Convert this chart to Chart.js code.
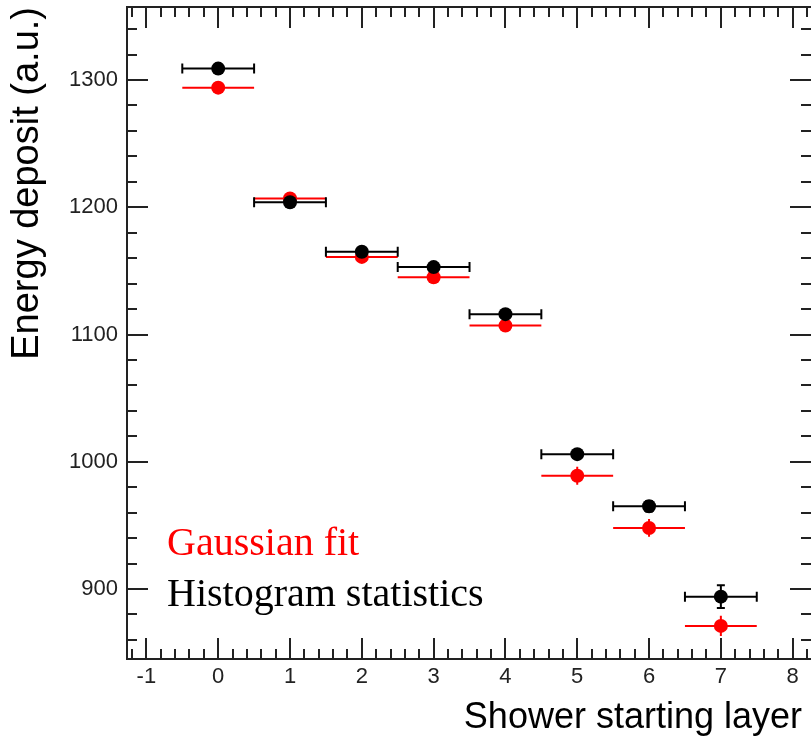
<!DOCTYPE html>
<html>
<head>
<meta charset="utf-8">
<script src="https://cdn.jsdelivr.net/npm/chart.js@4.4.1/dist/chart.umd.min.js"></script>
<style>
    html, body { margin: 0; padding: 0; background: #fff; }
    #wrap { width: 811px; height: 742px; }
</style>
</head>
<body>
<div id="wrap"><canvas id="chart" width="811" height="742"></canvas></div>
<script>
// shower starting layer (x) and the two estimates of the energy deposit
const LAYERS = [0, 1, 2, 3, 4, 5, 6, 7];
const HIST_MEAN = [1309, 1204, 1165, 1153, 1116, 1006, 965, 894];
const HIST_ERR = [3, 3, 3, 3, 3, 3, 4, 9];
const FIT_MEAN = [1294, 1207, 1161, 1145, 1107, 989, 948, 871];
const FIT_ERR = [3, 4, 3, 3, 5, 7, 7, 8];
const X_HALF_WIDTH = 0.5;

const FIT_LABEL = "Gaussian fit";
const HIST_LABEL = "Histogram statistics";
const X_TITLE = "Shower starting layer";
const Y_TITLE = "Energy deposit (a.u.)";

const SANS = "'Liberation Sans', Arial, sans-serif";
const SERIF = "'Liberation Serif', 'Times New Roman', serif";

function toPoints(values) {
    return LAYERS.map((layer, i) => ({ x: layer, y: values[i] }));
}

// error bars are drawn right before each dataset's markers
const errorBarPlugin = {
    id: "errorBars",
    beforeDatasetDraw(chart, args) {
        const ds = chart.data.datasets[args.index];
        const xs = chart.scales.x;
        const ys = chart.scales.y;
        const ctx = chart.ctx;
        ctx.save();
        ctx.strokeStyle = ds.borderColor;
        ctx.lineWidth = 2;
        ds.data.forEach((p, i) => {
            const cx = xs.getPixelForValue(p.x);
            const cy = ys.getPixelForValue(p.y);
            const x0 = xs.getPixelForValue(p.x - X_HALF_WIDTH);
            const x1 = xs.getPixelForValue(p.x + X_HALF_WIDTH);
            const yTop = ys.getPixelForValue(p.y + ds.yErr[i]);
            const yBot = ys.getPixelForValue(p.y - ds.yErr[i]);
            ctx.beginPath();
            ctx.moveTo(x0, cy); ctx.lineTo(x1, cy);
            ctx.moveTo(cx, yTop); ctx.lineTo(cx, yBot);
            if (ds.caps) {
                ctx.moveTo(x0, cy - 5); ctx.lineTo(x0, cy + 5);
                ctx.moveTo(x1, cy - 5); ctx.lineTo(x1, cy + 5);
                ctx.moveTo(cx - 4, yTop); ctx.lineTo(cx + 4, yTop);
                ctx.moveTo(cx - 4, yBot); ctx.lineTo(cx + 4, yBot);
            }
            ctx.stroke();
        });
        ctx.restore();
    }
};

// ROOT style frame: ticks on all four sides, pointing inwards
const framePlugin = {
    id: "rootFrame",
    afterDraw(chart) {
        const { ctx, chartArea } = chart;
        const xs = chart.scales.x;
        const ys = chart.scales.y;
        const right = chart.width;
        const { left, top, bottom } = chartArea;

        ctx.save();
        ctx.strokeStyle = "#222";
        ctx.lineWidth = 2;
        ctx.beginPath();
        ctx.moveTo(right, top); ctx.lineTo(left, top);
        ctx.lineTo(left, bottom); ctx.lineTo(right, bottom);

        const xMaxVisible = xs.getValueForPixel(right);
        for (let k = Math.ceil(xs.min * 5); k <= Math.floor(xMaxVisible * 5); k++) {
            const px = Math.round(xs.getPixelForValue(k / 5));
            if (px <= left + 1) continue;
            const len = k % 5 === 0 ? 21 : 10;
            ctx.moveTo(px, top); ctx.lineTo(px, top + len);
            ctx.moveTo(px, bottom); ctx.lineTo(px, bottom - len);
        }
        for (let k = Math.ceil(ys.min / 20); k <= Math.floor(ys.max / 20); k++) {
            const py = Math.round(ys.getPixelForValue(k * 20));
            const len = (k * 20) % 100 === 0 ? 21 : 10;
            ctx.moveTo(left, py); ctx.lineTo(left + len, py);
            ctx.moveTo(right, py); ctx.lineTo(right - len, py);
        }
        ctx.stroke();

        // text legend in the lower left corner
        ctx.font = "40px " + SERIF;
        ctx.textAlign = "left";
        ctx.textBaseline = "alphabetic";
        ctx.fillStyle = "#ff0000";
        ctx.fillText(FIT_LABEL, 167, 555);
        ctx.fillStyle = "#000";
        ctx.fillText(HIST_LABEL, 167, 606);
        ctx.restore();
    }
};

new Chart(document.getElementById("chart"), {
    type: "scatter",
    data: {
        datasets: [
            {
                label: HIST_LABEL,
                data: toPoints(HIST_MEAN),
                yErr: HIST_ERR,
                caps: true,
                borderColor: "#000",
                backgroundColor: "#000",
                pointRadius: 7,
                pointBorderWidth: 0
            },
            {
                label: FIT_LABEL,
                data: toPoints(FIT_MEAN),
                yErr: FIT_ERR,
                caps: false,
                borderColor: "#ff0000",
                backgroundColor: "#ff0000",
                pointRadius: 7,
                pointBorderWidth: 0
            }
        ]
    },
    options: {
        responsive: false,
        animation: false,
        layout: { padding: { top: 7, right: 9, left: 0, bottom: 0 } },
        scales: {
            x: {
                type: "linear",
                min: -1.27,
                max: 8.13,
                afterFit: (scale) => {
                    scale.height = 83;
                    scale.paddingLeft = 0;
                    scale.paddingRight = 0;
                },
                grid: { display: false, drawTicks: false },
                border: { display: false },
                ticks: {
                    stepSize: 1,
                    includeBounds: false,
                    padding: 5,
                    color: "#222",
                    font: { family: SANS, size: 22 },
                    callback: (v) => String(v)
                },
                title: {
                    display: true,
                    text: X_TITLE,
                    align: "end",
                    color: "#000",
                    font: { family: SANS, size: 36 },
                    padding: { top: 0, bottom: 2 }
                }
            },
            y: {
                type: "linear",
                min: 845,
                max: 1357.4,
                afterFit: (scale) => {
                    scale.width = 127;
                    scale.paddingTop = 0;
                    scale.paddingBottom = 0;
                },
                grid: { display: false, drawTicks: false },
                border: { display: false },
                ticks: {
                    stepSize: 100,
                    includeBounds: false,
                    padding: 9,
                    color: "#222",
                    font: { family: SANS, size: 22 },
                    callback: (v) => String(v)
                },
                title: {
                    display: true,
                    text: Y_TITLE,
                    align: "end",
                    color: "#000",
                    font: { family: SANS, size: 38 },
                    padding: { top: 5, bottom: 0 }
                }
            }
        },
        plugins: {
            legend: { display: false },
            tooltip: { enabled: false }
        }
    },
    plugins: [errorBarPlugin, framePlugin]
});
</script>
</body>
</html>
